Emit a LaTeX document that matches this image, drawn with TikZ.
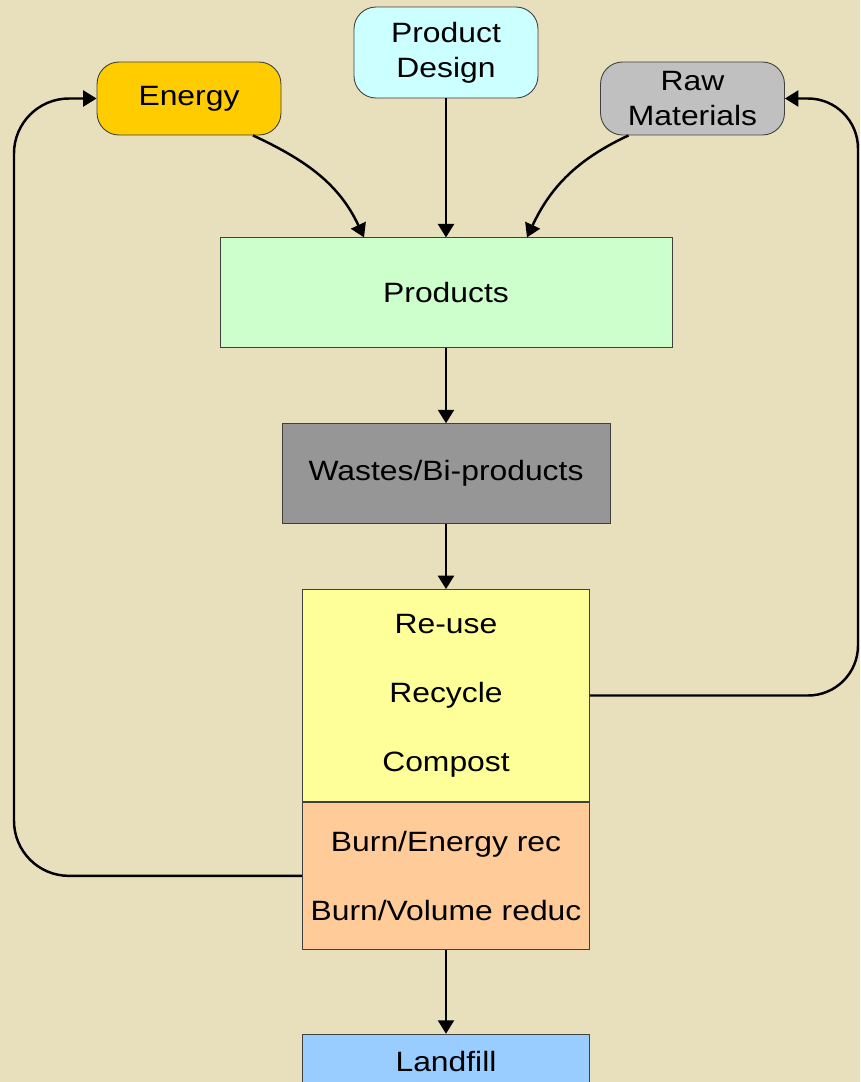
\documentclass[tikz,border=0pt]{standalone}
\usepackage{fontspec}
\setmainfont{Liberation Sans}[FakeStretch=1.14]
\usetikzlibrary{positioning, arrows.meta}

\definecolor{paper}{RGB}{232,223,188}
\definecolor{energygold}{RGB}{255,204,0}
\definecolor{designcyan}{RGB}{204,255,255}
\definecolor{rawgray}{RGB}{192,192,192}
\definecolor{productgreen}{RGB}{204,255,204}
\definecolor{wastegray}{RGB}{150,150,150}
\definecolor{recoveryellow}{RGB}{255,255,153}
\definecolor{burnorange}{RGB}{255,204,153}
\definecolor{landfillblue}{RGB}{153,204,255}

\begin{document}
\begin{tikzpicture}[
x=0.02cm, y=-0.02cm,
node distance=1cm,
every node/.style={draw=black!75, line width=0.5pt, align=center, inner sep=0pt,
  font=\fontsize{15.9}{19.8}\selectfont},
source/.style={rounded corners=0.44cm, minimum width=3.68cm},
stage/.style={minimum width=5.74cm},
flow/.style={-{Triangle[length=0.27cm,width=0.32cm]}, line width=1.4pt}
]
% Background
\fill[paper] (0,0) rectangle (860,1082);
\useasboundingbox (0,0) rectangle (860,1082);

% Nodes
\node (design) [source, fill=designcyan, minimum height=1.82cm] at (446,52.5) {Product\\Design};
\node (energy) [source, fill=energygold, minimum height=1.46cm] at (189,98.5) {Energy};
\node (raw) [source, fill=rawgray, minimum height=1.46cm] at (692.5,98.5) {Raw\\Materials};
\node (products) [below=2.78cm of design, fill=productgreen, minimum width=9.04cm, minimum height=2.2cm] {Products};
\node (wastes) [below=1.5cm of products, fill=wastegray, minimum width=6.56cm, minimum height=2cm] {Wastes/Bi-products};
\node (recover) [stage, below=1.3cm of wastes, fill=recoveryellow, minimum height=4.24cm,
  font=\fontsize{15.9}{39.2}\selectfont] {Re-use\\Recycle\\Compost};
\node (burn) [stage, below=0cm of recover, fill=burnorange, minimum height=2.94cm,
  font=\fontsize{15.9}{39.2}\selectfont] {Burn/Energy rec\\Burn/Volume reduc};
\node (landfill) [stage, below=1.68cm of burn, fill=landfillblue, minimum height=1.1cm] {Landfill};

\coordinate (leftrail) at (14,0);
\coordinate (rightrail) at (858,0);

% Arrows
\draw[flow] (energy.-30) to[out=-25, in=115] ([xshift=-1.64cm]products.north);
\draw[flow] (design) -- (products);
\draw[flow] (raw.-150) to[out=-155, in=65] ([xshift=1.62cm]products.north);
\draw[flow] (products) -- (wastes);
\draw[flow] (wastes) -- (recover);
\draw[flow] (burn) -- (landfill);
\draw[flow, rounded corners=1.1cm] (burn.west) -| (leftrail |- energy.west) [rounded corners=0.5cm] -- (energy.west);
\draw[flow, rounded corners=1cm] (recover.east) -| (rightrail |- raw.east) [rounded corners=0.5cm] -- (raw.east);
\end{tikzpicture}
\end{document}
